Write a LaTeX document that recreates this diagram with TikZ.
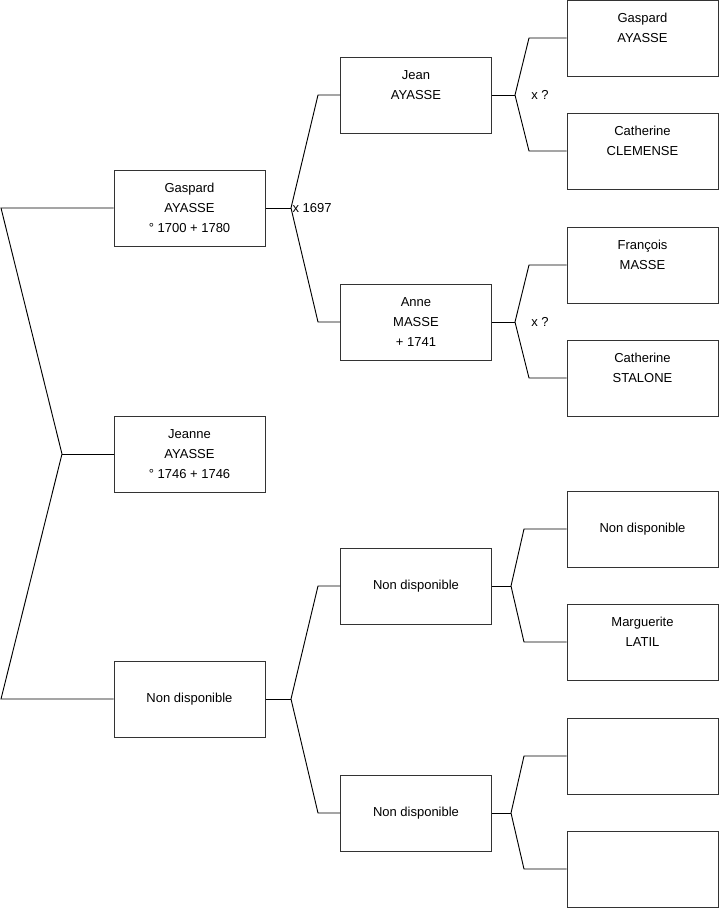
\documentclass[tikz,border=0pt]{standalone}
\usepackage{fontspec}
\setmainfont{Liberation Sans}
\usetikzlibrary{positioning, calc}
\usepackage{xcolor}

\begin{document}
\begin{tikzpicture}[
    x=0.75pt, y=-0.75pt,
    person/.style={rectangle, draw=black!80, fill=white, line width=0.75pt, minimum width=113.25pt, minimum height=57pt, align=center, inner sep=0pt, font=\fontsize{9.75}{15}\selectfont},
    link/.style={draw, black, line width=0.7pt},
    mariage/.style={anchor=west, inner sep=1pt, font=\fontsize{9.75}{11}\selectfont}
]
\useasboundingbox (0,0) rectangle (719,908);

% Nodes
\node[person] (gaspard) at (189.5,208) {Gaspard\\AYASSE\\° 1700 + 1780};
\node[person] (jeanne) at (189.5,454) {Jeanne\\AYASSE\\° 1746 + 1746};
\node[person] (ndA) at (189.5,699) {Non disponible};

\node[person] (jean) at (416,95) {Jean\\AYASSE\\\mbox{}};
\node[person] (anne) at (416,322) {Anne\\MASSE\\+ 1741};
\node[person] (ndB) at (416,586) {Non disponible};
\node[person] (ndC) at (416,813) {Non disponible};

\node[person] (gaspardP) at (642.5,38) {Gaspard\\AYASSE\\\mbox{}};
\node[person] (clemense) at (642.5,151) {Catherine\\CLEMENSE\\\mbox{}};
\node[person] (francois) at (642.5,265) {François\\MASSE\\\mbox{}};
\node[person] (stalone) at (642.5,378) {Catherine\\STALONE\\\mbox{}};
\node[person] (ndD) at (642.5,529) {Non disponible};
\node[person] (latil) at (642.5,642) {Marguerite\\LATIL\\\mbox{}};
\node[person] (blankA) at (642.5,756) {};
\node[person] (blankB) at (642.5,869) {};

% Fork points
\coordinate (fkJeanne) at (62,454);
\coordinate (fkGaspard) at (291,208);
\coordinate (fkNdA) at (291,699);
\coordinate (fkJean) at (515,95);
\coordinate (fkAnne) at (515,322);
\coordinate (fkNdB) at (511,586);
\coordinate (fkNdC) at (511,813);

% Lines
\draw[link] (gaspard.west) -- (1,208) -- (fkJeanne) -- (1,699) -- (ndA.west);
\draw[link] (fkJeanne) -- (jeanne.west);

\draw[link] (gaspard.east) -- (fkGaspard);
\draw[link] (jean.west) -- (318,95) -- (fkGaspard) -- (318,322) -- (anne.west);
\node[mariage] at (fkGaspard) {x 1697};

\draw[link] (ndA.east) -- (fkNdA);
\draw[link] (ndB.west) -- (318,586) -- (fkNdA) -- (318,813) -- (ndC.west);

\draw[link] (jean.east) -- (fkJean);
\draw[link] (gaspardP.west) -- (529,38) -- (fkJean) -- (529,151) -- (clemense.west);
\node[mariage, xshift=11pt] at (fkJean) {x ?};

\draw[link] (anne.east) -- (fkAnne);
\draw[link] (francois.west) -- (529,265) -- (fkAnne) -- (529,378) -- (stalone.west);
\node[mariage, xshift=11pt] at (fkAnne) {x ?};

\draw[link] (ndB.east) -- (fkNdB);
\draw[link] (ndD.west) -- (524,529) -- (fkNdB) -- (524,642) -- (latil.west);

\draw[link] (ndC.east) -- (fkNdC);
\draw[link] (blankA.west) -- (524,756) -- (fkNdC) -- (524,869) -- (blankB.west);

\end{tikzpicture}
\end{document}
